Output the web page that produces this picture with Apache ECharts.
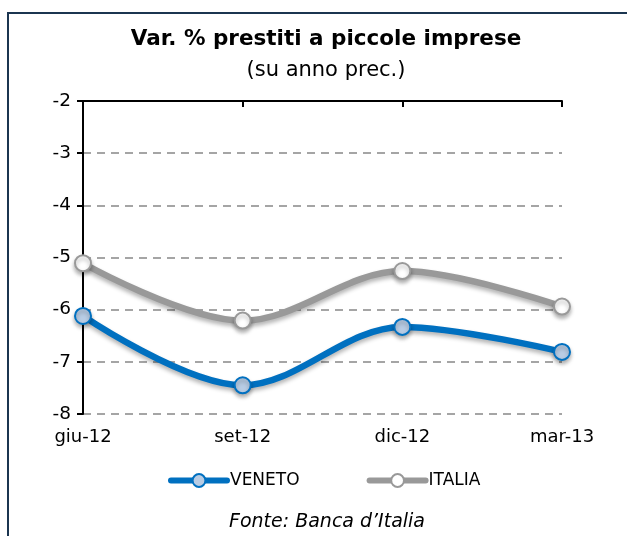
<!DOCTYPE html>
<html>
<head>
<meta charset="utf-8">
<script src="https://cdn.jsdelivr.net/npm/echarts@6/dist/echarts.min.js"></script>
<style>
  html, body { margin: 0; padding: 0; background: #fff; }
  #chart { width: 627px; height: 536px; }
</style>
</head>
<body>
<div id="chart"></div>
<script>
const categories = ['giu-12', 'set-12', 'dic-12', 'mar-13']
const veneto = [-6.12, -7.45, -6.33, -6.81]
const italia = [-5.11, -6.21, -5.26, -5.94]

const font = '"DejaVu Sans", Verdana, sans-serif'
const chart = echarts.init(document.getElementById('chart'))

chart.setOption({
  animation: false,
  textStyle: { fontFamily: font },
  title: [
    {
      text: 'Var. % prestiti a piccole imprese',
      left: 321,
      textAlign: 'center',
      top: 23,
      textStyle: { fontSize: 21.5, fontWeight: 'bold', color: '#000', fontFamily: font }
    },
    {
      text: '(su anno prec.)',
      left: 321,
      textAlign: 'center',
      top: 55,
      textStyle: { fontSize: 21, fontWeight: 'normal', color: '#000', fontFamily: font }
    },
    {
      text: 'Fonte: Banca d\u2019Italia',
      left: 322,
      textAlign: 'center',
      top: 508,
      textStyle: { fontSize: 19, fontWeight: 'normal', fontStyle: 'italic', color: '#000', fontFamily: font }
    }
  ],
  graphic: [
    {
      type: 'rect',
      shape: { x: 8, y: 13, width: 660, height: 600 },
      style: { fill: 'none', stroke: '#1b3550', lineWidth: 2 },
      silent: true
    }
  ],
  legend: {
    top: 467,
    left: 163,
    itemGap: 67,
    itemWidth: 56,
    itemHeight: 16,
    lineStyle: { width: 6, cap: 'round' },
    textStyle: { fontSize: 17, color: '#000', padding: [0, 0, 0, -2] },
    data: ['VENETO', 'ITALIA']
  },
  grid: { left: 83, right: 65, top: 101, bottom: 122 },
  xAxis: [
    {
      type: 'category',
      data: categories,
      boundaryGap: false,
      position: 'top',
      axisLine: { lineStyle: { color: '#000', width: 2 } },
      axisTick: { inside: true, length: 6, lineStyle: { color: '#000', width: 2 } },
      axisLabel: { show: false }
    },
    {
      type: 'category',
      data: categories,
      boundaryGap: false,
      position: 'bottom',
      axisLine: { show: false },
      axisTick: { show: false },
      axisLabel: { fontSize: 18, color: '#000', margin: 14 }
    }
  ],
  yAxis: {
    type: 'value',
    min: -8,
    max: -2,
    interval: 1,
    axisLine: { show: true, lineStyle: { color: '#000', width: 2 } },
    axisTick: { show: true, length: 6, lineStyle: { color: '#000', width: 2 } },
    axisLabel: { fontSize: 18.5, color: '#000', margin: 12 },
    splitLine: { lineStyle: { color: '#888', type: [8, 6], width: 1.5 } }
  },
  series: [
    {
      name: 'VENETO',
      type: 'line',
      xAxisIndex: 1,
      data: veneto,
      smooth: 0.35,
      symbol: 'circle',
      symbolSize: 16,
      lineStyle: { color: '#0070c0', width: 6.5, shadowColor: 'rgba(0,0,0,0.3)', shadowBlur: 4, shadowOffsetY: 3 },
      itemStyle: { color: '#b8cce4', borderColor: '#0070c0', borderWidth: 2, shadowColor: 'rgba(0,0,0,0.3)', shadowBlur: 4, shadowOffsetY: 3 },
      z: 3
    },
    {
      name: 'ITALIA',
      type: 'line',
      xAxisIndex: 1,
      data: italia,
      smooth: 0.35,
      symbol: 'circle',
      symbolSize: 16,
      lineStyle: { color: '#999999', width: 6.5, shadowColor: 'rgba(0,0,0,0.3)', shadowBlur: 4, shadowOffsetY: 3 },
      itemStyle: { color: '#ffffff', borderColor: '#999999', borderWidth: 2, shadowColor: 'rgba(0,0,0,0.3)', shadowBlur: 4, shadowOffsetY: 3 },
      z: 2
    }
  ]
})
</script>
</body>
</html>
